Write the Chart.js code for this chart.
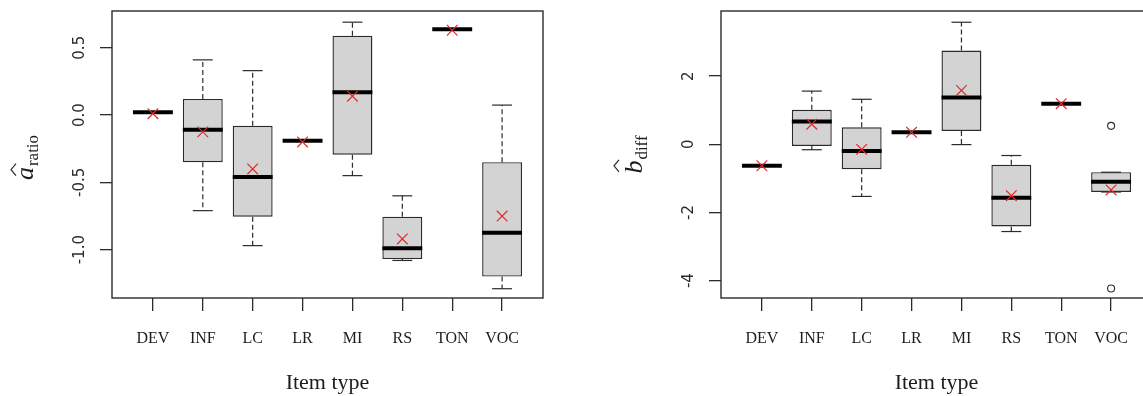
<!DOCTYPE html>
<html>
<head>
<meta charset="utf-8">
<script src="https://cdn.jsdelivr.net/npm/chart.js@4/dist/chart.umd.min.js"></script>
<style>
  html, body { margin: 0; padding: 0; background: #fff; overflow: hidden; width: 1143px; height: 396px; position: relative; }
  canvas { position: absolute; top: 0; }
  #left { left: 0; }
  #right { left: 609px; }
</style>
</head>
<body>
<canvas id="left" width="571" height="396"></canvas>
<canvas id="right" width="571" height="396"></canvas>
<script>
// Item types on the horizontal axis
const categories = ['DEV', 'INF', 'LC', 'LR', 'MI', 'RS', 'TON', 'VOC'];

// a_ratio: five-number summaries and means per item type
const aLow  = [0.02, -0.71, -0.97, -0.19, -0.45, -1.08, 0.637, -1.29];
const aQ1   = [0.02, -0.35, -0.755, -0.19, -0.295, -1.07, 0.637, -1.20];
const aMed  = [0.02, -0.11, -0.46, -0.19, 0.17, -0.99, 0.637, -0.875];
const aQ3   = [0.02, 0.12, -0.08, -0.19, 0.59, -0.755, 0.637, -0.35];
const aHigh = [0.02, 0.41, 0.33, -0.19, 0.69, -0.60, 0.637, 0.074];
const aMean = [0.01, -0.125, -0.40, -0.20, 0.14, -0.92, 0.63, -0.75];
const aOutliers = [[], [], [], [], [], [], [], []];
const aTicks = [-1.0, -0.5, 0.0, 0.5];
const aTickLabels = ['-1.0', '-0.5', '0.0', '0.5'];

// b_diff: five-number summaries and means per item type
const bLow  = [-0.63, -0.16, -1.53, 0.35, -0.01, -2.56, 1.19, -1.40];
const bQ1   = [-0.63, -0.05, -0.73, 0.35, 0.39, -2.41, 1.19, -1.40];
const bMed  = [-0.63, 0.67, -0.20, 0.35, 1.37, -1.57, 1.19, -1.10];
const bQ3   = [-0.63, 1.01, 0.50, 0.35, 2.75, -0.60, 1.19, -0.82];
const bHigh = [-0.63, 1.56, 1.32, 0.35, 3.58, -0.33, 1.19, -0.82];
const bMean = [-0.63, 0.59, -0.15, 0.35, 1.58, -1.51, 1.19, -1.34];
const bOutliers = [[], [], [], [], [], [], [], [0.54, -4.23]];
const bTicks = [-4, -2, 0, 2];
const bTickLabels = ['-4', '-2', '0', '2'];

const INK = '#2b2b2b';
const TEXT = '#1c1c1c';

// Whiskers, staples, medians, frame, rotated y labels and the hatted y title
const boxExtras = {
  id: 'boxExtras',
  afterDatasetDraw(chart, args, o) {
    if (args.index !== 0) return;
    const ctx = chart.ctx, xs = chart.scales.x, ys = chart.scales.y;
    const half = xs.getPixelForValue(1.4) - xs.getPixelForValue(1);
    const cap = half / 2;
    const seg = (x1, y1, x2, y2) => { ctx.beginPath(); ctx.moveTo(x1, y1); ctx.lineTo(x2, y2); ctx.stroke(); };
    ctx.save();
    o.med.forEach((m, i) => {
      const px = xs.getPixelForValue(i + 1);
      const yLo = ys.getPixelForValue(o.low[i]), yQ1 = ys.getPixelForValue(o.q1[i]);
      const yQ3 = ys.getPixelForValue(o.q3[i]), yHi = ys.getPixelForValue(o.high[i]);
      ctx.strokeStyle = INK; ctx.lineWidth = 1.2;
      ctx.setLineDash([5, 3]);
      seg(px, yQ3, px, yHi);
      seg(px, yQ1, px, yLo);
      ctx.setLineDash([]);
      seg(px - cap, yHi, px + cap, yHi);
      seg(px - cap, yLo, px + cap, yLo);
      ctx.strokeStyle = '#000'; ctx.lineWidth = 4;
      const ym = ys.getPixelForValue(m);
      seg(px - half, ym, px + half, ym);
    });
    ctx.restore();
  },
  afterDraw(chart, args, o) {
    const ctx = chart.ctx, ca = chart.chartArea, ys = chart.scales.y;
    ctx.save();
    ctx.strokeStyle = INK; ctx.lineWidth = 1.4;
    ctx.strokeRect(ca.left, ca.top, ca.right - ca.left, ca.bottom - ca.top);
    // y tick labels, reading upwards
    ctx.fillStyle = INK;
    ctx.font = '15px "DejaVu Sans"';
    ctx.textAlign = 'center'; ctx.textBaseline = 'middle';
    o.ticks.forEach((v, i) => {
      ctx.save();
      ctx.translate(ca.left - 32, ys.getPixelForValue(v));
      ctx.rotate(-Math.PI / 2);
      ctx.fillText(o.tickLabels[i], 0, 0);
      ctx.restore();
    });
    // y title: hatted italic symbol with an upright subscript
    const mainFont = 'italic 26px "Liberation Serif"';
    const subFont = '17px "Liberation Serif"';
    ctx.fillStyle = TEXT;
    ctx.font = mainFont; const wMain = ctx.measureText(o.symbol).width;
    ctx.font = subFont; const wSub = ctx.measureText(o.sub).width;
    const total = wMain + 1 + wSub;
    const cy = (ca.top + ca.bottom) / 2 + o.titleShift;
    ctx.translate(ca.left - 79, cy + total / 2);
    ctx.rotate(-Math.PI / 2);
    ctx.textAlign = 'left'; ctx.textBaseline = 'alphabetic';
    ctx.font = mainFont; ctx.fillText(o.symbol, 0, 0);
    ctx.font = subFont; ctx.fillText(o.sub, wMain + 1, 5);
    ctx.strokeStyle = INK; ctx.lineWidth = 1.2;
    const hc = wMain * o.hatCenter;
    ctx.beginPath();
    ctx.moveTo(hc - 6, o.hatTop + 5);
    ctx.lineTo(hc, o.hatTop);
    ctx.lineTo(hc + 6, o.hatTop + 5);
    ctx.stroke();
    ctx.restore();
  }
};

function makeChart(id, s) {
  const boxes = categories.map((c, i) => ({ x: i + 1, y: [s.q1[i], s.q3[i]] }));
  const means = categories.map((c, i) => ({ x: i + 1, y: s.mean[i] }));
  const outs = [];
  s.outliers.forEach((list, i) => list.forEach(v => outs.push({ x: i + 1, y: v })));
  return new Chart(document.getElementById(id), {
    type: 'bar',
    data: {
      datasets: [
        { type: 'bar', data: boxes, order: 2, backgroundColor: '#d3d3d3', borderColor: INK,
          borderWidth: 1.4, borderSkipped: false, barPercentage: 0.8, categoryPercentage: 1.0 },
        { type: 'scatter', data: means, order: 0, pointStyle: 'crossRot', pointRadius: 7.5,
          borderColor: '#e02a2a', backgroundColor: 'rgba(0,0,0,0)', pointBorderWidth: 1.2 },
        { type: 'scatter', data: outs, order: 1, pointStyle: 'circle', pointRadius: 3.5,
          borderColor: INK, backgroundColor: 'rgba(0,0,0,0)', pointBorderWidth: 1.1 }
      ]
    },
    options: {
      responsive: false,
      animation: false,
      devicePixelRatio: 1,
      events: [],
      layout: { padding: { top: 11, right: 28, left: 0, bottom: 0 } },
      plugins: {
        legend: { display: false },
        tooltip: { enabled: false },
        boxExtras: {
          low: s.low, q1: s.q1, med: s.med, q3: s.q3, high: s.high,
          ticks: s.ticks, tickLabels: s.tickLabels,
          symbol: s.symbol, sub: s.sub, titleShift: s.titleShift, hatTop: s.hatTop, hatCenter: s.hatCenter
        }
      },
      scales: {
        x: {
          type: 'linear', min: 0.18, max: 8.82, offset: false,
          afterBuildTicks: sc => { sc.ticks = categories.map((c, i) => ({ value: i + 1 })); },
          afterFit: sc => { sc.height = 98; },
          grid: { offset: false, drawOnChartArea: false, drawTicks: true, tickLength: 13, color: INK, lineWidth: 1.3 },
          border: { display: false },
          ticks: {
            callback: v => categories[Math.round(v) - 1],
            font: { family: 'Liberation Serif', size: 16 }, color: TEXT,
            padding: 18, maxRotation: 0, minRotation: 0, autoSkip: false
          },
          title: { display: true, text: 'Item type', font: { family: 'Liberation Serif', size: 22 }, color: TEXT, padding: 0 }
        },
        y: {
          type: 'linear', min: s.min, max: s.max,
          afterBuildTicks: sc => { sc.ticks = s.ticks.map(v => ({ value: v })); },
          afterFit: sc => { sc.width = 112; },
          grid: { drawOnChartArea: false, drawTicks: true, tickLength: 12, color: INK, lineWidth: 1.3 },
          border: { display: false },
          ticks: { display: false }
        }
      }
    },
    plugins: [boxExtras]
  });
}

makeChart('left', {
  low: aLow, q1: aQ1, med: aMed, q3: aQ3, high: aHigh, mean: aMean, outliers: aOutliers,
  ticks: aTicks, tickLabels: aTickLabels, min: -1.359, max: 0.773,
  symbol: 'a', sub: 'ratio', titleShift: 3, hatTop: -22, hatCenter: 0.8
});
makeChart('right', {
  low: bLow, q1: bQ1, med: bMed, q3: bQ3, high: bHigh, mean: bMean, outliers: bOutliers,
  ticks: bTicks, tickLabels: bTickLabels, min: -4.51, max: 3.91,
  symbol: 'b', sub: 'diff', titleShift: 0, hatTop: -28, hatCenter: 0.6
});
</script>
</body>
</html>
